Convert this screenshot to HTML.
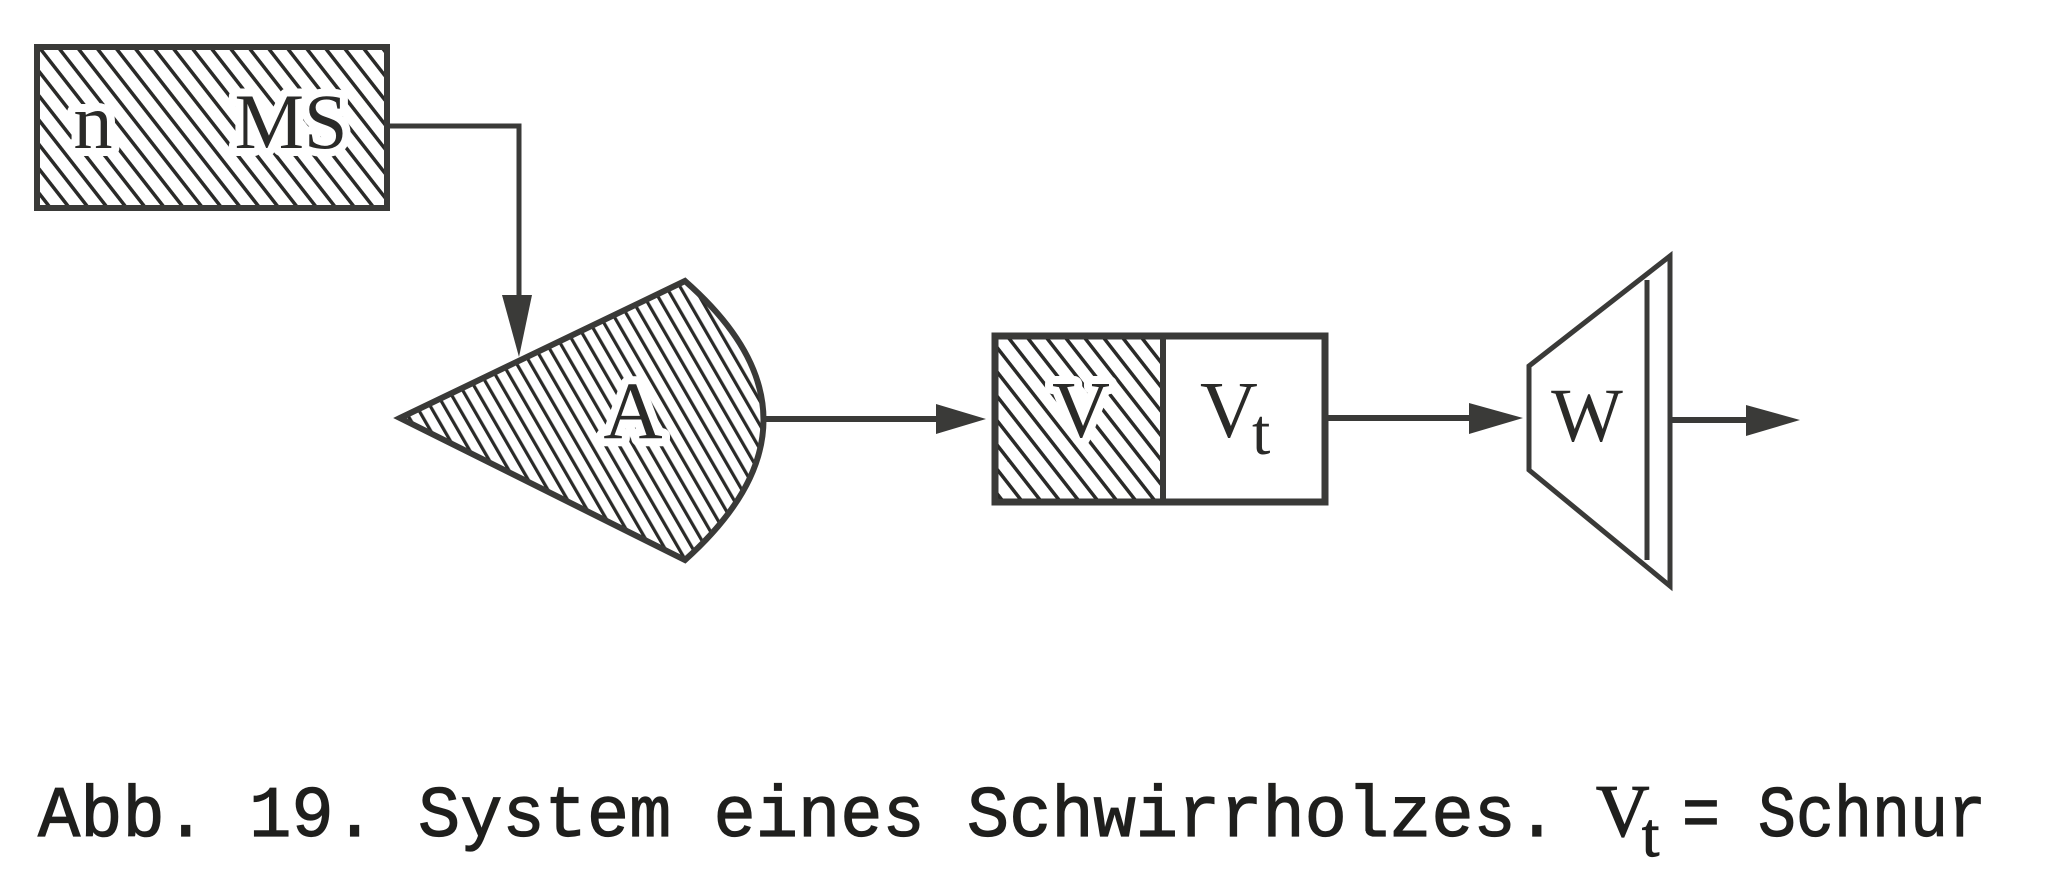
<!DOCTYPE html>
<html><head><meta charset="utf-8"><style>
html,body{margin:0;padding:0;background:#fff;}
svg{display:block;}
</style></head><body>
<svg width="2046" height="876" viewBox="0 0 2046 876" xmlns="http://www.w3.org/2000/svg">
<defs>
<pattern id="h" patternUnits="userSpaceOnUse" width="15" height="15" patternTransform="rotate(-38)">
<rect x="0" y="0" width="3.5" height="15" fill="#2a2a28"/>
</pattern>
<pattern id="h2" patternUnits="userSpaceOnUse" width="12" height="12" patternTransform="rotate(-30)">
<rect x="0" y="0" width="3.2" height="12" fill="#2a2a28"/>
</pattern>
</defs>
<rect width="2046" height="876" fill="#fff"/>
<g stroke="#3a3a38" fill="none" stroke-linejoin="miter">
<rect x="37" y="47" width="350" height="161" fill="url(#h)" stroke-width="6"/>
<polyline points="388,126 519,126 519,320" stroke-width="5"/>
<path d="M400,418 L685,281 Q842,419 685,560 Z" fill="url(#h2)" stroke-width="6"/>
<line x1="763" y1="419" x2="950" y2="419" stroke-width="6"/>
<rect x="995" y="336" width="330" height="166" fill="#fff" stroke-width="7"/>
<rect x="998" y="339" width="165" height="160" fill="url(#h)" stroke="none"/>
<line x1="1163" y1="336" x2="1163" y2="502" stroke-width="6"/>
<line x1="1327" y1="418" x2="1485" y2="418" stroke-width="6"/>
<polygon points="1529,366 1670,256 1670,586 1529,470" fill="#fff" stroke-width="5"/>
<line x1="1647" y1="280" x2="1647" y2="560" stroke-width="5"/>
<line x1="1670" y1="420" x2="1760" y2="420" stroke-width="6"/>
</g>
<g fill="#3a3a38">
<polygon points="502,295 532,295 519,357"/>
<polygon points="936,404 986,419 936,434"/>
<polygon points="1469,403 1523,418 1469,434"/>
<polygon points="1746,405 1800,420 1746,436"/>
</g>
<g font-family="Liberation Serif, serif" fill="#2a2a28" text-anchor="middle" stroke="#fff" stroke-width="16" paint-order="stroke" stroke-linejoin="round">
<text x="93" y="148" font-size="78">n</text>
<text x="291" y="148" font-size="78">MS</text>
<text x="633" y="438" font-size="82">A</text>
<text x="1081" y="437" font-size="80">V</text>
</g>
<g font-family="Liberation Serif, serif" fill="#2a2a28">
<text x="1200" y="437" font-size="80">V</text>
<text x="1252" y="454" font-size="66">t</text>
<text x="1587" y="441" font-size="76" text-anchor="middle">W</text>
</g>
<g font-family="Liberation Mono, monospace" fill="#1f1f1d" font-size="72" stroke="#1f1f1d" stroke-width="1.2">
<text x="38" y="836" textLength="1520" lengthAdjust="spacingAndGlyphs">Abb. 19. System eines Schwirrholzes.</text>
<text x="1596" y="836" font-family="Liberation Serif, serif" font-size="74">V</text>
<text x="1642" y="856" font-family="Liberation Serif, serif" font-size="62">t</text>
<text x="1682" y="836" textLength="304" lengthAdjust="spacingAndGlyphs">= Schnur</text>
</g>
</svg>
</body></html>
